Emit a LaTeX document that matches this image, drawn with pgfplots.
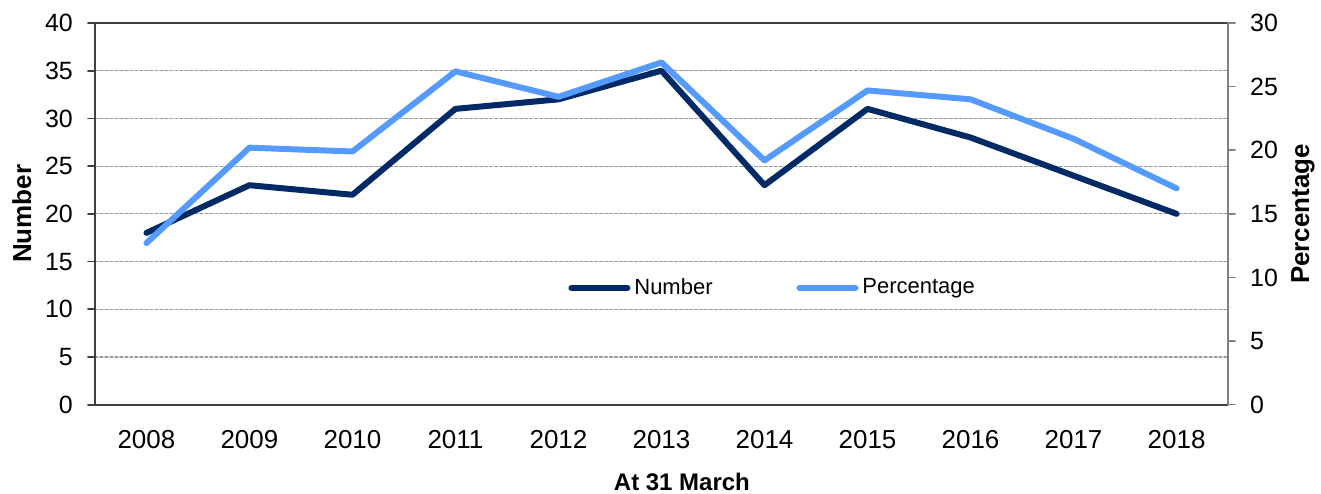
\documentclass[border=0pt]{standalone}
\usepackage{fontspec}
\setmainfont{Liberation Sans}
\usepackage{pgfplots}
\pgfplotsset{compat=1.18}
\definecolor{navy}{RGB}{0,42,102}
\definecolor{lblue}{RGB}{85,155,255}
\definecolor{axgray}{RGB}{64,64,64}
\definecolor{gridgray}{RGB}{155,155,155}
\begin{document}
\begin{tikzpicture}
\useasboundingbox (-47.5pt,-44.5pt) rectangle (613.5pt,202.5pt);
\pgfplotsset{
  every axis/.append style={
    width=567pt, height=191pt, scale only axis,
    at={(0pt,0pt)}, anchor=south west,
    xmin=-0.5, xmax=10.5, ymin=0,
    /pgf/number format/assume math mode=true,
    tick label style={font=\fontsize{12.5}{14}\selectfont},
    tick align=outside,
    major tick length=3.5pt, minor tick length=3.5pt,
    line cap=round, line join=round,
  }
}
\begin{axis}[
  ymax=40, ytick={0,5,...,40},
  ytick pos=left, xtick pos=bottom,
  axis line style={axgray, line width=0.8pt},
  every tick/.style={axgray, line width=0.8pt},
  xtick={0,...,10},
  xticklabels={2008,2009,2010,2011,2012,2013,2014,2015,2016,2017,2018},
  minor xtick={-0.5,0.5,...,10.5},
  xtick style={draw=none},
  minor tick style={axgray, line width=0.8pt},
  xticklabel style={yshift=-6pt, font=\fontsize{13}{15}\selectfont},
  yticklabel style={xshift=-4pt},
  ymajorgrids,
  grid style={gridgray, dash pattern=on 1.5pt off 1pt, line width=0.6pt},
  xlabel={\bfseries At 31 March},
  every axis x label/.style={at={(axis description cs:0.518,0)}, anchor=center, yshift=-38.5pt, font=\fontsize{12}{14}\selectfont},
  ylabel={\bfseries Number},
  every axis y label/.style={at={(axis description cs:-0.0644,0.5)}, anchor=center, rotate=90, font=\fontsize{13}{15}\selectfont},
]
\addplot[navy, line width=3pt] coordinates {
 (0,18) (1,23) (2,22) (3,31) (4,32) (5,35) (6,23) (7,31) (8,28) (9,24) (10,20)
};
\end{axis}
\begin{axis}[
  ymax=30, ytick={0,5,...,30},
  axis x line=none,
  axis y line*=right,
  axis line style={gray, line width=0.8pt},
  every tick/.style={gray, line width=0.8pt},
  yticklabel style={xshift=4pt},
  ylabel={\bfseries Percentage},
  every axis y label/.style={at={(axis description cs:1.0661,0.5)}, anchor=center, rotate=90, font=\fontsize{13}{15}\selectfont},
  legend style={draw=none, fill=none, at={(0.599,0.306)}, anchor=center,
    font=\fontsize{11}{13}\selectfont,
    /tikz/every even column/.append style={column sep=40pt}},
  legend columns=2,
  legend image code/.code={\draw[#1, line cap=round] (0pt,0pt) -- (28pt,0pt);},
]
\addlegendimage{navy, line width=3pt}
\addlegendentry{Number}
\addplot[lblue, line width=3pt] coordinates {
 (0,12.7) (1,20.2) (2,19.9) (3,26.2) (4,24.2) (5,26.9) (6,19.2) (7,24.7) (8,24.0) (9,20.9) (10,17.0)
};
\addlegendentry{Percentage}
\end{axis}
\end{tikzpicture}
\end{document}
